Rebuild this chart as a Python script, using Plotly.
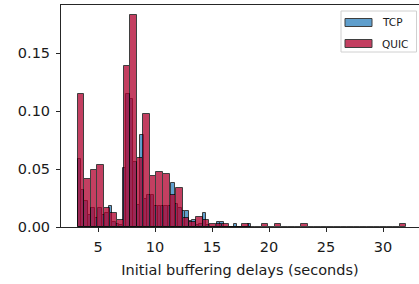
import plotly.graph_objects as go

# ---- data (probability per bin) ----
quic_bin_start = 3.2
quic_bin_width = 0.577
quic_probs = [
    0.1147, 0.0414, 0.0494, 0.0537, 0.0161, 0.0118, 0.0060, 0.1385, 0.1825, 0.0595,
    0.0971, 0.0437, 0.0477, 0.0460, 0.0279, 0.0339, 0.0080, 0.0040, 0.0083, 0.0060,
    0.0023, 0.0023, 0.0023, 0.0, 0.0, 0.0023, 0.0, 0.0, 0.0023, 0.0,
    0.0023, 0.0, 0.0, 0.0, 0.0023, 0.0, 0.0, 0.0, 0.0, 0.0,
    0.0, 0.0, 0.0, 0.0, 0.0, 0.0, 0.0, 0.0, 0.0, 0.0023,
]

tcp_bin_start = 3.2
tcp_bin_width = 0.305
tcp_probs = [
    0.059, 0.032, 0.022, 0.010, 0.016, 0.008, 0.016, 0.010, 0.012, 0.018,
    0.004, 0.003, 0.002, 0.051, 0.115, 0.110, 0.056, 0.019, 0.079, 0.024,
    0.028, 0.028, 0.018, 0.018, 0.018, 0.018, 0.018, 0.038, 0.020, 0.016,
    0.014, 0.014, 0.005, 0.006, 0.002, 0.003, 0.012, 0.002, 0.0, 0.0,
    0.004, 0.004, 0.0, 0.0, 0.0, 0.0023, 0.0, 0.0, 0.0, 0.0023,
]

series_names = ["TCP", "QUIC"]
x_ticks = [5, 10, 15, 20, 25, 30]
y_ticks = [0.0, 0.05, 0.10, 0.15]
x_title = "Initial buffering delays (seconds)"

TCP_BASE = "rgb(43,128,189)"
QUIC_BASE = "rgb(176,0,45)"
FONT = "DejaVu Sans"

W, H = 419, 284
L, T, B = 61, 5, 57
plot_w = W - L
plot_h = H - T - B
x_lo = 1.75
px_per_unit = 11.4
x_hi = x_lo + plot_w / px_per_unit
y_hi = 0.1914

fig = go.Figure()

def add_hist(start, width, probs, color, name):
    lefts = [start + i * width for i in range(len(probs))]
    fig.add_trace(go.Bar(
        x=lefts, y=probs, width=[width] * len(probs), offset=0,
        marker=dict(color=color, line=dict(color="black", width=1)),
        opacity=0.75, name=name, showlegend=False,
    ))

add_hist(tcp_bin_start, tcp_bin_width, tcp_probs, TCP_BASE, series_names[0])
add_hist(quic_bin_start, quic_bin_width, quic_probs, QUIC_BASE, series_names[1])

# manual legend (matplotlib-like)
def px2paper_x(px):
    return (px - L) / plot_w

def py2paper_y(py):
    return (H - B - py) / plot_h

shapes = []
shapes.append(dict(type="rect", xref="paper", yref="paper",
                   x0=px2paper_x(341), x1=px2paper_x(416.5),
                   y0=py2paper_y(52), y1=py2paper_y(11),
                   line=dict(color="#d0d0d0", width=1), fillcolor="rgba(255,255,255,0.8)",
                   layer="above"))
legend_colors = [TCP_BASE, QUIC_BASE]
for i, (nm, col) in enumerate(zip(series_names, legend_colors)):
    cy = 22.5 + i * 21
    shapes.append(dict(type="rect", xref="paper", yref="paper",
                       x0=px2paper_x(345), x1=px2paper_x(372),
                       y0=py2paper_y(cy + 4), y1=py2paper_y(cy - 4),
                       line=dict(color="black", width=1), fillcolor=col,
                       opacity=0.75, layer="above"))
    fig.add_annotation(xref="paper", yref="paper", x=px2paper_x(380), y=py2paper_y(cy),
                       text=nm, showarrow=False, xanchor="left", yanchor="middle",
                       font=dict(family=FONT, size=10.5, color="#1a1a1a"))

fig.update_layout(
    width=W, height=H,
    margin=dict(l=L, r=0, t=T, b=B, pad=0),
    plot_bgcolor="white", paper_bgcolor="white",
    barmode="overlay", bargap=0,
    shapes=shapes,
    font=dict(family=FONT, size=14.5, color="#1a1a1a"),
)
fig.update_xaxes(
    range=[x_lo, x_hi], tickvals=x_ticks, ticktext=[str(v) for v in x_ticks],
    ticks="outside", ticklen=4, tickwidth=1, tickcolor="#262626",
    ticklabelstandoff=3,
    showline=True, linecolor="#262626", linewidth=1, mirror=True,
    showgrid=False, zeroline=False,
    title=dict(text=x_title, font=dict(size=14.5), standoff=10),
)
fig.update_yaxes(
    range=[0, y_hi], tickvals=y_ticks, ticktext=["%.2f" % v for v in y_ticks],
    ticks="outside", ticklen=4, tickwidth=1, tickcolor="#262626",
    ticklabelstandoff=3,
    showline=True, linecolor="#262626", linewidth=1, mirror=False,
    showgrid=False, zeroline=False,
)

fig.write_html("out.html", config={"displayModeBar": False},
               post_script="document.body.style.margin='0';document.body.style.overflow='hidden';")
